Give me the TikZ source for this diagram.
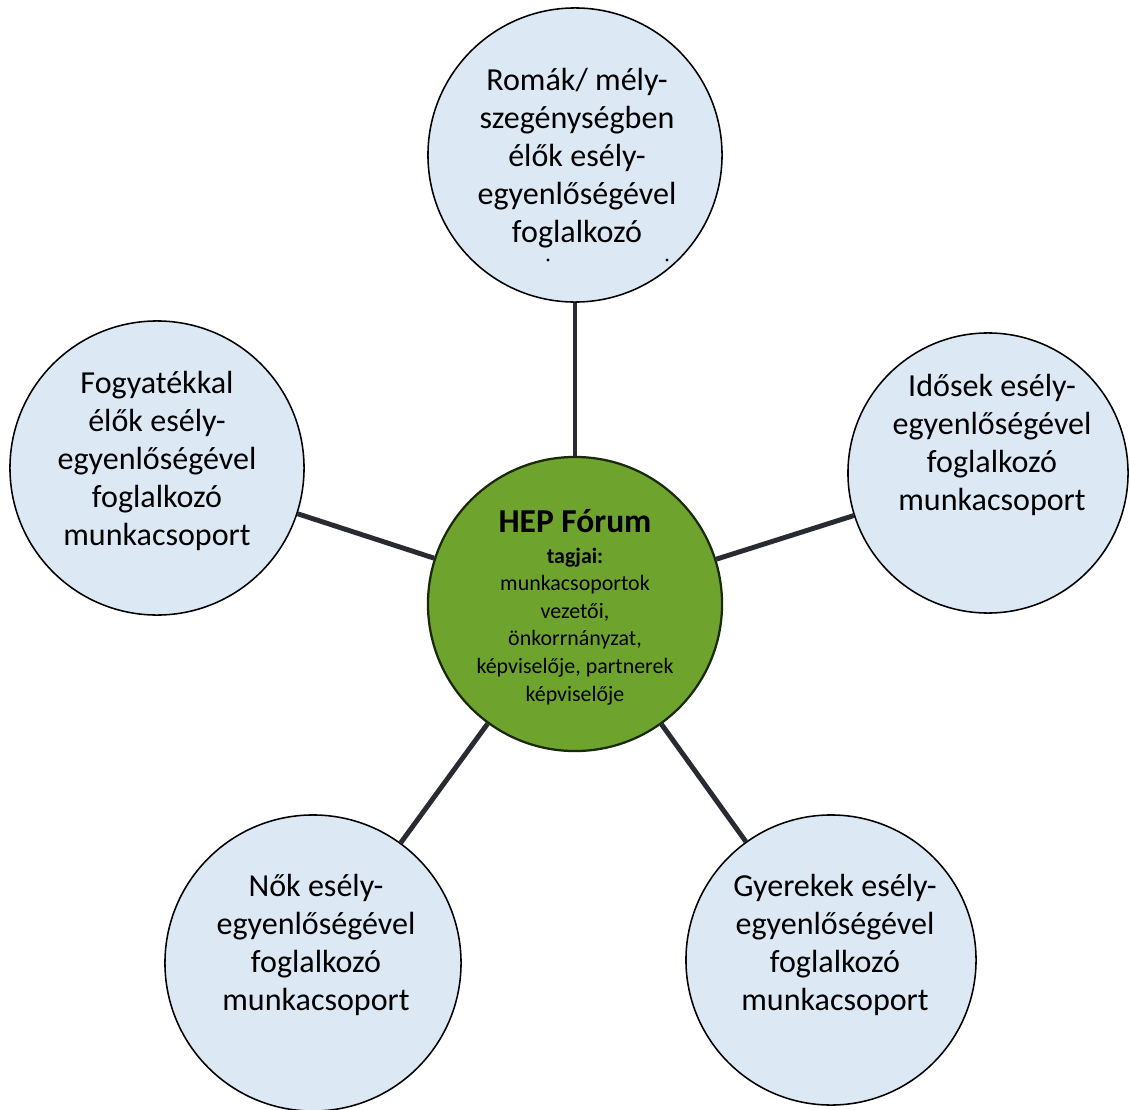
\documentclass[tikz,border=0pt]{standalone}
\usepackage{fontspec}
\setmainfont{Carlito}
\usepackage{xcolor}
\usetikzlibrary{positioning}
\definecolor{forumgreen}{RGB}{110,163,46}
\definecolor{groupblue}{RGB}{221,232,245}
\definecolor{linkgray}{RGB}{40,44,50}

\begin{document}
\begin{tikzpicture}[x=0.025cm, y=-0.025cm,
        group/.style={circle, draw=black, line width=1.1pt, fill=groupblue, inner sep=0pt},
        forum/.style={circle, draw=black!75!forumgreen, line width=1.6pt, fill=forumgreen, minimum size=7.35cm, inner sep=0pt},
        grouptext/.style={align=center, font=\fontsize{22.8}{27}\selectfont},
        forumtext/.style={align=center, font=\fontsize{15.6}{19.6}\selectfont},
        link/.style={line width=3.5pt, draw=linkgray}
    ]
        \fill[white] (0,0) rectangle (1130,1110);
        \useasboundingbox (0,0) rectangle (1130,1110);

        % working groups
        \node[group, minimum size=7.35cm] (romak) at (575,155) {};
        \node[group, minimum size=7.35cm] (fogyatekkal) at (157,468) {};
        \node[group, minimum size=7.0cm] (idosek) at (988,473) {};
        \node[group, minimum size=7.4cm] (nok) at (313,963) {};
        \node[group, minimum size=7.25cm] (gyerekek) at (831,960) {};

        % forum
        \node[forum] (hep) at (575,604) {};

        \draw[link] (hep) -- (romak);
        \draw[link] (hep) -- (fogyatekkal);
        \draw[link] (hep) -- (idosek);
        \draw[link] (hep) -- (nok);
        \draw[link] (hep) -- (gyerekek);

        \node[grouptext] (romak-t) at (577,158) {Romák/ mély-\\szegénységben\\élők esély-\\egyenlőségével\\foglalkozó};
        \fill (548,260) circle (1.2pt);
        \fill (667,260) circle (1.2pt);
        \node[grouptext] (fogyatekkal-t) at (157,461) {Fogyatékkal\\élők esély-\\egyenlőségével\\foglalkozó\\munkacsoport};
        \node[grouptext] (idosek-t) at (992,445) {Idősek esély-\\egyenlőségével\\foglalkozó\\munkacsoport};
        \node[grouptext] (nok-t) at (316,945) {Nők esély-\\egyenlőségével\\foglalkozó\\munkacsoport};
        \node[grouptext] (gyerekek-t) at (835,945) {Gyerekek esély-\\egyenlőségével\\foglalkozó\\munkacsoport};
        \node[forumtext] (hep-t) at (575,607) {\textbf{\fontsize{23.8}{28}\selectfont HEP Fórum}\\[2.4pt]\textbf{tagjai:}\\munkacsoportok\\vezetői,\\önkorrnányzat,\\képviselője, partnerek\\képviselője};
\end{tikzpicture}
\end{document}
